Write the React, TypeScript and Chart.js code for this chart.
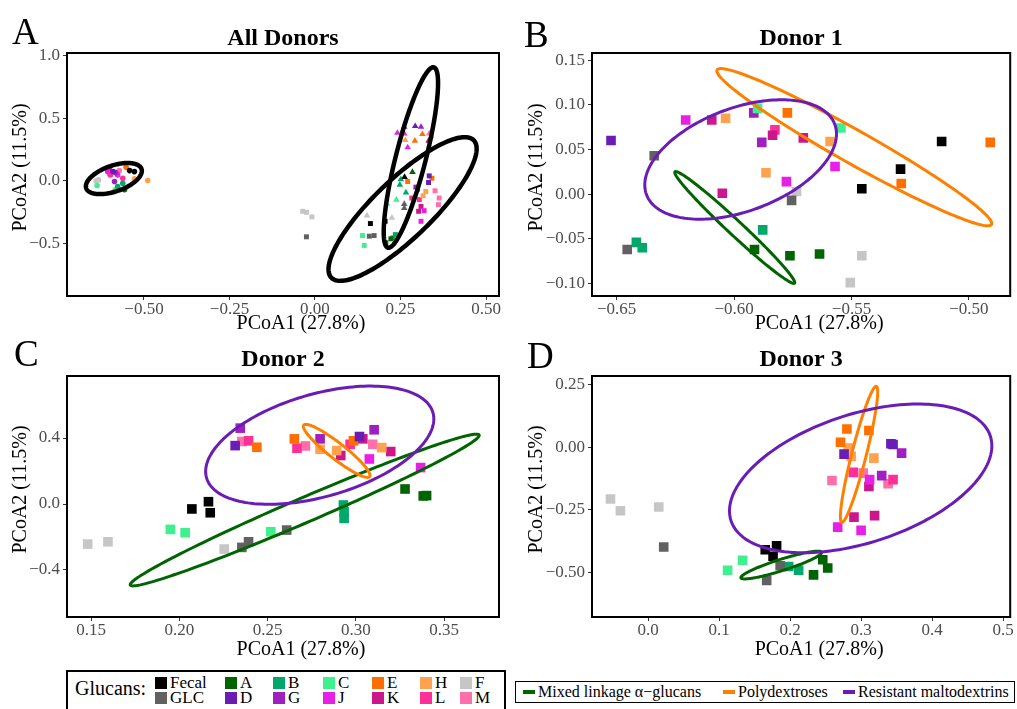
import { useEffect, useRef } from "react";
import { Chart, registerables } from "chart.js";
Chart.register(...registerables);

const SERIF = "'Liberation Serif', 'Times New Roman', serif";

// ---------- groups ----------
const GROUPS = ["Fecal", "GLC", "A", "B", "C", "D", "E", "G", "H", "J", "K", "L", "M", "F"];
const GROUP_COLORS = ["#000000", "#616161", "#006400", "#00a86b", "#3ff08f", "#6a1db5", "#ff6f00", "#a01fc0", "#ffa24f", "#e620e6", "#cc178c", "#ff2f98", "#ff70aa", "#c6c6c6"];

// ---------- Panel A: All Donors (donor 1 circle, 2 triangle, 3 square) ----------
const A_GROUP = ["F", "F", "C", "J", "L", "K", "D", "G", "J", "M", "M", "G", "L", "E", "Fecal", "Fecal", "H", "H", "B", "B", "A", "C",
  "D", "D", "G", "J", "L", "E", "H", "E", "J", "M", "K", "H", "A", "B", "Fecal", "B", "B", "C", "C", "GLC", "GLC", "F", "F",
  "E", "D", "D", "E", "G", "G", "H", "H", "L", "M", "M", "M", "K", "K", "J", "J", "L", "Fecal", "Fecal", "GLC", "GLC", "C", "C", "B", "B", "A", "A", "F", "F", "F", "GLC"];
const A_DONOR = [1, 1, 1, 1, 1, 1, 1, 1, 1, 1, 1, 1, 1, 1, 1, 1, 1, 1, 1, 1, 1, 1,
  2, 2, 2, 2, 2, 2, 2, 2, 2, 2, 2, 2, 2, 2, 2, 2, 2, 2, 2, 2, 2, 2, 2,
  3, 3, 3, 3, 3, 3, 3, 3, 3, 3, 3, 3, 3, 3, 3, 3, 3, 3, 3, 3, 3, 3, 3, 3, 3, 3, 3, 3, 3, 3, 3];
const A_X = [-0.640, -0.633, -0.637, -0.606, -0.598, -0.600, -0.590, -0.583, -0.577, -0.572, -0.600, -0.586, -0.562, -0.552, -0.542, -0.528, -0.528, -0.489, -0.562, -0.577, -0.557, -0.584,
  0.261, 0.293, 0.310, 0.241, 0.261, 0.314, 0.264, 0.292, 0.271, 0.334, 0.332, 0.340, 0.285, 0.251, 0.262, 0.248, 0.266, 0.238, 0.210, 0.261, 0.261, 0.152, 0.225,
  0.271, 0.334, 0.332, 0.342, 0.295, 0.300, 0.324, 0.316, 0.283, 0.351, 0.363, 0.361, 0.310, 0.303, 0.319, 0.310, 0.305, 0.162, 0.205, 0.159, 0.173, 0.139, 0.144, 0.235, 0.228, 0.207, 0.222, -0.036, -0.025, -0.009, -0.025];
const A_Y = [0.000, 0.008, -0.037, 0.074, 0.048, 0.085, 0.075, 0.066, 0.048, 0.082, 0.055, -0.005, 0.021, 0.108, 0.082, 0.074, 0.016, 0.003, -0.019, -0.045, -0.071, -0.071,
  0.431, 0.437, 0.431, 0.383, 0.378, 0.373, 0.325, 0.320, 0.267, 0.378, 0.320, 0.355, 0.071, 0.013, 0.030, -0.032, -0.093, -0.151, -0.183, -0.185, -0.217, -0.278, -0.296,
  -0.005, 0.040, -0.013, 0.021, -0.050, -0.066, -0.085, -0.119, -0.137, -0.079, -0.137, -0.190, -0.204, -0.243, -0.238, -0.323, -0.150, -0.341, -0.323, -0.442, -0.437, -0.437, -0.516, -0.429, -0.455, -0.495, -0.463, -0.243, -0.251, -0.288, -0.447];
// ellipse: [centerX, centerY, semiAxis1X, semiAxis1Y, semiAxis2X, semiAxis2Y]
const A_ELLIPSES = [
  [-0.588, 0.0185, 0.0808, 0.0772, 0.01258, -0.0974],
  [0.2804, 0.1865, 0.0671, 0.7206, 0.0425, -0.0292],
  [0.2561, -0.2249, 0.2081, 0.5495, 0.0598, -0.1669],
];
const A_ELLIPSE_COLORS = ["#000000", "#000000", "#000000"];
const A_X_TICKS = [-0.5, -0.25, 0, 0.25, 0.5];
const A_X_LABELS = ["\u22120.50", "\u22120.25", "0.00", "0.25", "0.50"];
const A_Y_TICKS = [-0.5, 0, 0.5, 1.0];
const A_Y_LABELS = ["\u22120.5", "0.0", "0.5", "1.0"];

// ---------- Panel B: Donor 1 ----------
const B_GROUP = ["D", "GLC", "J", "K", "H", "C", "G", "E", "K", "L", "G", "K", "H", "C", "H", "J", "J", "F", "GLC", "K", "Fecal", "Fecal", "Fecal", "E", "E", "B", "A", "A", "A", "F", "F", "GLC", "B", "B"];
const B_X = [-0.6524, -0.634, -0.6206, -0.6095, -0.6036, -0.590, -0.5916, -0.5773, -0.5836, -0.5826, -0.5882, -0.5705, -0.5591, -0.5545, -0.5864, -0.557, -0.5777, -0.5734, -0.5755, -0.605, -0.5456, -0.5291, -0.5116, -0.5288, -0.4909, -0.5878, -0.5913, -0.5762, -0.5636, -0.5456, -0.5505, -0.6455, -0.6416, -0.6391];
const B_Y = [0.060, 0.043, 0.083, 0.083, 0.085, 0.096, 0.091, 0.091, 0.066, 0.072, 0.058, 0.063, 0.059, 0.074, 0.024, 0.031, 0.014, 0.003, -0.007, 0.001, 0.006, 0.028, 0.059, 0.012, 0.058, -0.040, -0.062, -0.069, -0.067, -0.069, -0.099, -0.062, -0.054, -0.060];
const B_ELLIPSES = [
  [-0.5997, -0.0373, 0.02546, -0.06228, 0.00208, 0.00605],
  [-0.5488, 0.0526, 0.05844, -0.08646, 0.00339, 0.01632],
  [-0.5972, 0.0388, 0.04015, 0.0390, 0.0074, -0.0543],
];
const B_X_TICKS = [-0.65, -0.6, -0.55, -0.5];
const B_X_LABELS = ["\u22120.65", "\u22120.60", "\u22120.55", "\u22120.50"];
const B_Y_TICKS = [-0.1, -0.05, 0, 0.05, 0.1, 0.15];
const B_Y_LABELS = ["\u22120.10", "\u22120.05", "0.00", "0.05", "0.10", "0.15"];

// ---------- Panel C: Donor 2 ----------
const C_GROUP = ["F", "F", "C", "C", "Fecal", "Fecal", "Fecal", "F", "GLC", "GLC", "C", "GLC", "B", "B", "B", "A", "A", "A", "J",
  "D", "G", "M", "L", "E", "E", "L", "M", "G", "H", "H", "K", "L", "E", "D", "K", "G", "M", "H", "K", "J"];
const C_X = [0.1481, 0.1596, 0.1949, 0.2033, 0.2071, 0.2165, 0.2175, 0.2254, 0.2354, 0.2392, 0.2518, 0.2608, 0.2929, 0.2933, 0.2933, 0.3278, 0.3381, 0.3400, 0.3366,
  0.2316, 0.2345, 0.2354, 0.2392, 0.2439, 0.2651, 0.2666, 0.2714, 0.2797, 0.2797, 0.2891, 0.2914, 0.2967, 0.2986, 0.3020, 0.3039, 0.3103, 0.3095, 0.3146, 0.3197, 0.3076];
const C_Y = [-0.243, -0.229, -0.154, -0.174, -0.030, 0.014, -0.053, -0.273, -0.263, -0.229, -0.168, -0.158, -0.006, -0.047, -0.087, 0.091, 0.049, 0.051, 0.221,
  0.354, 0.460, 0.379, 0.383, 0.344, 0.395, 0.338, 0.352, 0.395, 0.332, 0.324, 0.294, 0.362, 0.383, 0.409, 0.395, 0.450, 0.362, 0.342, 0.318, 0.273];
const C_ELLIPSES = [
  [0.2710, -0.0365, 0.09876, 0.4547, 0.00275, -0.0689],
  [0.2891, 0.322, 0.01864, -0.1560, 0.00278, 0.0383],
  [0.2795, 0.3565, 0.0641, 0.1975, 0.00797, -0.2989],
];
const C_X_TICKS = [0.15, 0.2, 0.25, 0.3, 0.35];
const C_X_LABELS = ["0.15", "0.20", "0.25", "0.30", "0.35"];
const C_Y_TICKS = [-0.4, 0, 0.4];
const C_Y_LABELS = ["\u22120.4", "0.0", "0.4"];

// ---------- Panel D: Donor 3 ----------
const D_GROUP = ["F", "F", "F", "GLC", "C", "C", "Fecal", "Fecal", "Fecal", "GLC", "GLC", "B", "B", "A", "A", "A",
  "E", "E", "E", "H", "D", "H", "H", "D", "D", "G", "L", "M", "J", "K", "G", "M", "L", "M", "K", "K", "J", "J"];
const D_X = [-0.053, -0.039, 0.015, 0.022, 0.112, 0.133, 0.165, 0.181, 0.176, 0.167, 0.186, 0.198, 0.212, 0.233, 0.253, 0.246,
  0.280, 0.311, 0.271, 0.282, 0.276, 0.286, 0.318, 0.342, 0.345, 0.357, 0.289, 0.303, 0.312, 0.311, 0.329, 0.259, 0.345, 0.338, 0.290, 0.319, 0.267, 0.300];
const D_Y = [-0.207, -0.254, -0.239, -0.398, -0.491, -0.451, -0.409, -0.393, -0.435, -0.531, -0.473, -0.476, -0.491, -0.509, -0.482, -0.449,
  0.072, 0.066, 0.019, -0.004, -0.028, -0.037, -0.044, 0.013, 0.010, -0.024, -0.101, -0.104, -0.130, -0.157, -0.114, -0.133, -0.130, -0.146, -0.279, -0.273, -0.319, -0.332];
const D_ELLIPSES = [
  [0.1876, -0.470, 0.05687, 0.0510, 0.00236, -0.0215],
  [0.2971, -0.0292, 0.02433, 0.2709, 0.00989, -0.00726],
  [0.2994, -0.1248, 0.1827, 0.1677, 0.02742, -0.2441],
];
const D_X_TICKS = [0, 0.1, 0.2, 0.3, 0.4, 0.5];
const D_X_LABELS = ["0.0", "0.1", "0.2", "0.3", "0.4", "0.5"];
const D_Y_TICKS = [-0.5, -0.25, 0, 0.25];
const D_Y_LABELS = ["\u22120.50", "\u22120.25", "0.00", "0.25"];

// ---------- legends ----------
const ELLIPSE_LABELS = ["Mixed linkage \u03b1\u2212glucans", "Polydextroses", "Resistant maltodextrins"];
const ELLIPSE_COLORS = ["#006400", "#ff7f00", "#6a1db5"];
const LEGEND_ROW1 = ["Fecal", "A", "B", "C", "E", "H", "F"];
const LEGEND_ROW2 = ["GLC", "D", "G", "J", "K", "L", "M"];

const X_TITLE = "PCoA1 (27.8%)";
const Y_TITLE = "PCoA2 (11.5%)";

type Panel = {
  title: string; left: number; top: number; w: number; h: number;
  xMin: number; xMax: number; yMin: number; yMax: number;
  xTicks: number[]; xLabels: string[]; yTicks: number[]; yLabels: string[];
  group: string[]; xs: number[]; ys: number[]; donor?: number[];
  ellipses: number[][]; ellColors: string[]; ellWidth: number;
  yAxisW: number; rightPad: number; titlePadTop: number; titlePadBottom: number;
  xAxisH: number; xTitlePad: number; yTitlePad: number;
};

const PANELS: Panel[] = [
  { title: "All Donors", left: 0, top: 0, w: 508, h: 336, xMin: -0.725, xMax: 0.538, yMin: -0.92, yMax: 1.022,
    xTicks: A_X_TICKS, xLabels: A_X_LABELS, yTicks: A_Y_TICKS, yLabels: A_Y_LABELS,
    group: A_GROUP, xs: A_X, ys: A_Y, donor: A_DONOR, ellipses: A_ELLIPSES, ellColors: A_ELLIPSE_COLORS, ellWidth: 4.5,
    yAxisW: 67, rightPad: 9, titlePadTop: 24, titlePadBottom: 0.2, xAxisH: 40, xTitlePad: 0, yTitlePad: 9 },
  { title: "Donor 1", left: 508, top: 0, w: 509, h: 336, xMin: -0.6605, xMax: -0.4824, yMin: -0.114, yMax: 0.158,
    xTicks: B_X_TICKS, xLabels: B_X_LABELS, yTicks: B_Y_TICKS, yLabels: B_Y_LABELS,
    group: B_GROUP, xs: B_X, ys: B_Y, ellipses: B_ELLIPSES, ellColors: ELLIPSE_COLORS, ellWidth: 3,
    yAxisW: 84, rightPad: 1, titlePadTop: 24, titlePadBottom: 0.2, xAxisH: 40, xTitlePad: 0, yTitlePad: 17 },
  { title: "Donor 2", left: 0, top: 336, w: 508, h: 330, xMin: 0.1364, xMax: 0.381, yMin: -0.685, yMax: 0.776,
    xTicks: C_X_TICKS, xLabels: C_X_LABELS, yTicks: C_Y_TICKS, yLabels: C_Y_LABELS,
    group: C_GROUP, xs: C_X, ys: C_Y, ellipses: C_ELLIPSES, ellColors: ELLIPSE_COLORS, ellWidth: 3,
    yAxisW: 67, rightPad: 9, titlePadTop: 9.6, titlePadBottom: 1.6, xAxisH: 49, xTitlePad: 4, yTitlePad: 8.5 },
  { title: "Donor 3", left: 508, top: 336, w: 509, h: 330, xMin: -0.079, xMax: 0.51, yMin: -0.677, yMax: 0.283,
    xTicks: D_X_TICKS, xLabels: D_X_LABELS, yTicks: D_Y_TICKS, yLabels: D_Y_LABELS,
    group: D_GROUP, xs: D_X, ys: D_Y, ellipses: D_ELLIPSES, ellColors: ELLIPSE_COLORS, ellWidth: 3,
    yAxisW: 84, rightPad: 2, titlePadTop: 9.6, titlePadBottom: 1.6, xAxisH: 49, xTitlePad: 4, yTitlePad: 16.5 },
];

const ellipsePlugin = {
  id: "ellipses",
  afterDatasetsDraw(chart: any, _args: any, opts: any) {
    const { ctx, chartArea } = chart;
    const xs = chart.scales.x, ys = chart.scales.y;
    ctx.save();
    ctx.beginPath();
    ctx.rect(chartArea.left, chartArea.top, chartArea.right - chartArea.left, chartArea.bottom - chartArea.top);
    ctx.clip();
    (opts.items || []).forEach((e: number[], i: number) => {
      ctx.beginPath();
      const n = 180;
      for (let k = 0; k <= n; k++) {
        const t = (k / n) * Math.PI * 2;
        const vx = e[0] + Math.cos(t) * e[2] + Math.sin(t) * e[4];
        const vy = e[1] + Math.cos(t) * e[3] + Math.sin(t) * e[5];
        const px = xs.getPixelForValue(vx), py = ys.getPixelForValue(vy);
        if (k === 0) ctx.moveTo(px, py); else ctx.lineTo(px, py);
      }
      ctx.closePath();
      ctx.strokeStyle = opts.colors[i];
      ctx.lineWidth = opts.width;
      ctx.stroke();
    });
    ctx.restore();
  },
};

const boxPlugin = {
  id: "panelBox",
  afterDraw(chart: any) {
    const { ctx, chartArea } = chart;
    ctx.save();
    ctx.strokeStyle = "#000";
    ctx.lineWidth = 2;
    ctx.strokeRect(chartArea.left, chartArea.top, chartArea.right - chartArea.left, chartArea.bottom - chartArea.top);
    ctx.restore();
  },
};

// shifts the drawn axis titles slightly, as in the reference figure
const titleShift = {
  id: "titleShift",
  beforeDraw(chart: any) {
    const sx = chart.scales.x;
    if (sx && !sx._shiftPatched) {
      const orig = sx.drawTitle;
      sx.drawTitle = function (...args: any[]) {
        const l = this.left, r = this.right;
        this.left = l + 18; this.right = r + 18;
        orig.apply(this, args);
        this.left = l; this.right = r;
      };
      sx._shiftPatched = true;
    }
    const sy = chart.scales.y;
    if (sy && !sy._shiftPatched) {
      const orig = sy.drawTitle;
      sy.drawTitle = function (...args: any[]) {
        const t = this.top, b = this.bottom;
        this.top = t - 7; this.bottom = b - 7;
        orig.apply(this, args);
        this.top = t; this.bottom = b;
      };
      sy._shiftPatched = true;
    }
  },
};

function labelFor(ticks: number[], labels: string[], v: number) {
  for (let i = 0; i < ticks.length; i++) if (Math.abs(ticks[i] - v) < 1e-9) return labels[i];
  return "";
}

function PanelChart({ p }: { p: Panel }) {
  const ref = useRef<HTMLCanvasElement | null>(null);
  useEffect(() => {
    if (!ref.current) return;
    const datasets = GROUPS.map((g, gi) => {
      const idx = p.group.map((gg, i) => (gg === g ? i : -1)).filter((i) => i >= 0);
      const styles = idx.map((i) => {
        const d = p.donor ? p.donor[i] : 3;
        return d === 1 ? "circle" : d === 2 ? "triangle" : "rect";
      });
      const radii = idx.map((i) => {
        if (!p.donor) return 6.8;
        const d = p.donor[i];
        return d === 1 ? 2.8 : d === 2 ? 3.8 : 3.5;
      });
      return {
        label: g,
        data: idx.map((i) => ({ x: p.xs[i], y: p.ys[i] })),
        backgroundColor: GROUP_COLORS[gi],
        borderColor: GROUP_COLORS[gi],
        pointBorderWidth: 0,
        pointStyle: styles,
        pointRadius: radii,
      };
    }).filter((d) => d.data.length > 0);

    const tickFont = { size: 17, family: SERIF, lineHeight: 1 };
    const titleFont = { size: 20, family: SERIF, lineHeight: 1.2 };
    const chart = new Chart(ref.current, {
      type: "scatter",
      data: { datasets: datasets as any },
      options: {
        responsive: false,
        animation: false,
        devicePixelRatio: 1,
        events: [],
        layout: { padding: { left: 0, right: p.rightPad, top: 0, bottom: 0 } },
        plugins: {
          legend: { display: false },
          tooltip: { enabled: false },
          title: {
            display: true, text: p.title, fullSize: false, color: "#000",
            font: { size: 24, weight: "bold", family: SERIF, lineHeight: 1.2 },
            padding: { top: p.titlePadTop, bottom: p.titlePadBottom },
          },
          ellipses: { items: p.ellipses, colors: p.ellColors, width: p.ellWidth },
        } as any,
        scales: {
          x: {
            type: "linear", min: p.xMin, max: p.xMax,
            afterBuildTicks: (s: any) => { s.ticks = p.xTicks.map((v) => ({ value: v })); },
            afterFit: (s: any) => { s.height = p.xAxisH; s.paddingLeft = 0; s.paddingRight = 0; },
            ticks: { autoSkip: false, maxRotation: 0, padding: 1, color: "#4d4d4d", font: tickFont,
              callback: (v: any) => labelFor(p.xTicks, p.xLabels, Number(v)) },
            grid: { display: true, drawOnChartArea: false, drawTicks: true, tickLength: 4, color: "#333333" },
            border: { display: false },
            title: { display: true, text: X_TITLE, color: "#000", font: titleFont, padding: { top: 0, bottom: p.xTitlePad } },
          },
          y: {
            type: "linear", min: p.yMin, max: p.yMax,
            afterBuildTicks: (s: any) => { s.ticks = p.yTicks.map((v) => ({ value: v })); },
            afterFit: (s: any) => { s.width = p.yAxisW; s.paddingTop = 0; s.paddingBottom = 0; },
            ticks: { autoSkip: false, padding: 3, color: "#4d4d4d", font: tickFont,
              callback: (v: any) => labelFor(p.yTicks, p.yLabels, Number(v)) },
            grid: { display: true, drawOnChartArea: false, drawTicks: true, tickLength: 4, color: "#333333" },
            border: { display: false },
            title: { display: true, text: Y_TITLE, color: "#000", font: titleFont, padding: { top: p.yTitlePad, bottom: 0 } },
          },
        },
      } as any,
      plugins: [ellipsePlugin, boxPlugin, titleShift],
    });
    return () => chart.destroy();
  }, [p]);
  return (
    <canvas ref={ref} width={p.w} height={p.h}
      style={{ position: "absolute", left: p.left, top: p.top, width: p.w, height: p.h }} />
  );
}

const LETTERS = [
  { t: "A", left: 12, top: 13 },
  { t: "B", left: 524, top: 16 },
  { t: "C", left: 14, top: 335 },
  { t: "D", left: 527, top: 337 },
];
const LEG_COLS = [155, 225, 273, 323, 372, 420, 460];
const LINE_COLS = [523, 723, 843];

export default function App() {
  useEffect(() => { document.body.style.margin = "0"; }, []);
  const colorOf = (g: string) => GROUP_COLORS[GROUPS.indexOf(g)];
  return (
    <div style={{ position: "relative", width: 1017, height: 709, overflow: "hidden", background: "#fff", fontFamily: SERIF, color: "#000" }}>
      <style>{"body{margin:0}"}</style>
      {PANELS.map((p, i) => <PanelChart key={i} p={p} />)}
      {LETTERS.map((l) => (
        <div key={l.t} style={{ position: "absolute", left: l.left, top: l.top, fontSize: 37, lineHeight: "37px" }}>{l.t}</div>
      ))}
      {/* glucan legend */}
      <div style={{ position: "absolute", left: 66, top: 670, width: 440, height: 50, border: "2px solid #000", boxSizing: "border-box" }} />
      <div style={{ position: "absolute", left: 75, top: 677, fontSize: 20, lineHeight: "22px" }}>Glucans:</div>
      {[LEGEND_ROW1, LEGEND_ROW2].map((row, ri) =>
        row.map((g, ci) => {
          const cy = ri === 0 ? 682.5 : 698;
          return (
            <div key={g}>
              <div style={{ position: "absolute", left: LEG_COLS[ci], top: cy - 6, width: 12, height: 12, background: colorOf(g) }} />
              <div style={{ position: "absolute", left: LEG_COLS[ci] + 15, top: cy - 9, fontSize: 17, lineHeight: "18px" }}>{g}</div>
            </div>
          );
        })
      )}
      {/* ellipse legend */}
      <div style={{ position: "absolute", left: 515, top: 681, width: 500, height: 22, border: "1.5px solid #000", boxSizing: "border-box" }} />
      {ELLIPSE_LABELS.map((t, i) => (
        <div key={t}>
          <div style={{ position: "absolute", left: LINE_COLS[i], top: 689.5, width: 12, height: 4, background: ELLIPSE_COLORS[i] }} />
          <div style={{ position: "absolute", left: LINE_COLS[i] + 15, top: 682.5, fontSize: 16, lineHeight: "18px", whiteSpace: "nowrap" }}>{t}</div>
        </div>
      ))}
    </div>
  );
}
